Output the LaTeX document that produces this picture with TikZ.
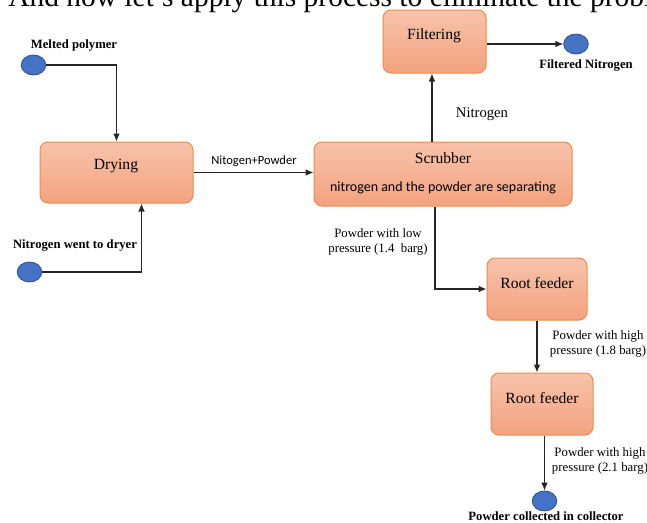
\documentclass[tikz,border=0pt]{standalone}
\usepackage{fontspec}
\setmainfont{Liberation Serif}
\newfontfamily\calibri{Carlito}
\usetikzlibrary{arrows.meta,shapes.geometric}
\definecolor{boxtop}{HTML}{F7C3AA}
\definecolor{boxbot}{HTML}{F3A27F}
\definecolor{boxline}{HTML}{EE8A4C}
\definecolor{dotfill}{HTML}{4472C4}
\definecolor{dotline}{HTML}{2F528F}
\begin{document}
\begin{tikzpicture}[x=0.75pt,y=-0.75pt,
  box/.style={draw=boxline,line width=0.75pt,rounded corners=6pt,top color=boxtop,bottom color=boxbot,inner sep=0pt},
  boxtext/.style={font=\fontsize{11.7}{14}\selectfont,inner sep=0pt},
  dot/.style={ellipse,draw=dotline,line width=0.6pt,fill=dotfill,inner sep=0pt,minimum width=18.5pt,minimum height=15pt},
  blabel/.style={font=\fontsize{9.5}{11}\selectfont\bfseries,inner sep=0pt},
  plabel/.style={font=\fontsize{9.6}{11.25}\selectfont,align=center,inner sep=0pt},
  conn/.style={line width=0.8pt,draw=black!85},
  arr/.style={conn,-{Latex[length=6pt,width=5pt]}}]
\useasboundingbox (0,0) rectangle (647,522);
\begin{scope}
\clip (0,0) rectangle (647,522);
\node[anchor=base west,inner sep=0pt,font=\fontsize{22.1}{26}\selectfont] (toptext) at (8,6) {And now let's apply this process to eliminate the problem};
\end{scope}
% boxes
\node[box,minimum width=114.75pt,minimum height=45.75pt] (drying) at (116.5,172.5) {};
\node[box,minimum width=193.5pt,minimum height=48pt] (scrubber) at (443,174) {};
\node[box,minimum width=77.25pt,minimum height=47.25pt] (filtering) at (434.5,41.5) {};
\node[box,minimum width=75pt,minimum height=46.5pt] (rf1) at (537,289) {};
\node[box,minimum width=76.5pt,minimum height=46.5pt] (rf2) at (542,404) {};
% box texts
\node[boxtext] (tdrying) at (116,166) {Drying};
\node[boxtext] (tscrub) at (443,158) {Scrubber};
\node[inner sep=0pt,font=\calibri\fontsize{10.5}{12}\selectfont] (tsep) at (443,188) {nitrogen and the powder are separating};
\node[boxtext] (tfilter) at (434,36) {Filtering};
\node[boxtext] (trf1) at (537,283) {Root feeder};
\node[boxtext] (trf2) at (542,398) {Root feeder};
% dots
\node[dot] (mp) at (33.5,65) {};
\node[dot] (nd) at (29.5,272) {};
\node[dot] (fn) at (576,44) {};
\node[dot] (pc) at (544.5,501) {};
% dot labels
\node[blabel] (lmp) at (74,45) {Melted polymer};
\node[blabel] (lnd) at (75,245) {Nitrogen went to dryer};
\node[blabel] (lfn) at (586,65) {Filtered Nitrogen};
\node[blabel] (lpc) at (546,516) {Powder collected in collector};
% connector labels
\node[inner sep=0pt,font=\calibri\fontsize{9.4}{11}\selectfont] (lnp) at (254,161) {Nitogen+Powder};
\node[inner sep=0pt,font=\fontsize{11}{13}\selectfont] (lnit) at (482,114) {Nitrogen};
\node[plabel] (llow) at (378,242) {Powder with low\\pressure (1.4\ \ barg)};
\node[plabel] (lh1) at (598,344) {Powder with high\\pressure (1.8 barg)};
\node[plabel] (lh2) at (600,461) {Powder with high\\pressure (2.1 barg)};
% connectors
\draw[arr] (mp.east) -| (drying.north);
\draw[arr] (nd.east) -| ([xshift=18.75pt]drying.south);
\draw[arr] (drying.east) -- (drying.east -| scrubber.west);
\draw[arr] ([xshift=-1.9pt]filtering.south |- scrubber.north) -- ([xshift=-1.9pt]filtering.south);
\draw[arr] (fn.west -| filtering.east) -- (fn.west);
\draw[arr] ([xshift=-6pt]scrubber.south) |- (rf1.west);
\draw[arr] (rf1.south) -- (rf1.south |- rf2.north);
\draw[arr] (pc.north |- rf2.south) -- (pc.north);
\end{tikzpicture}
\end{document}
